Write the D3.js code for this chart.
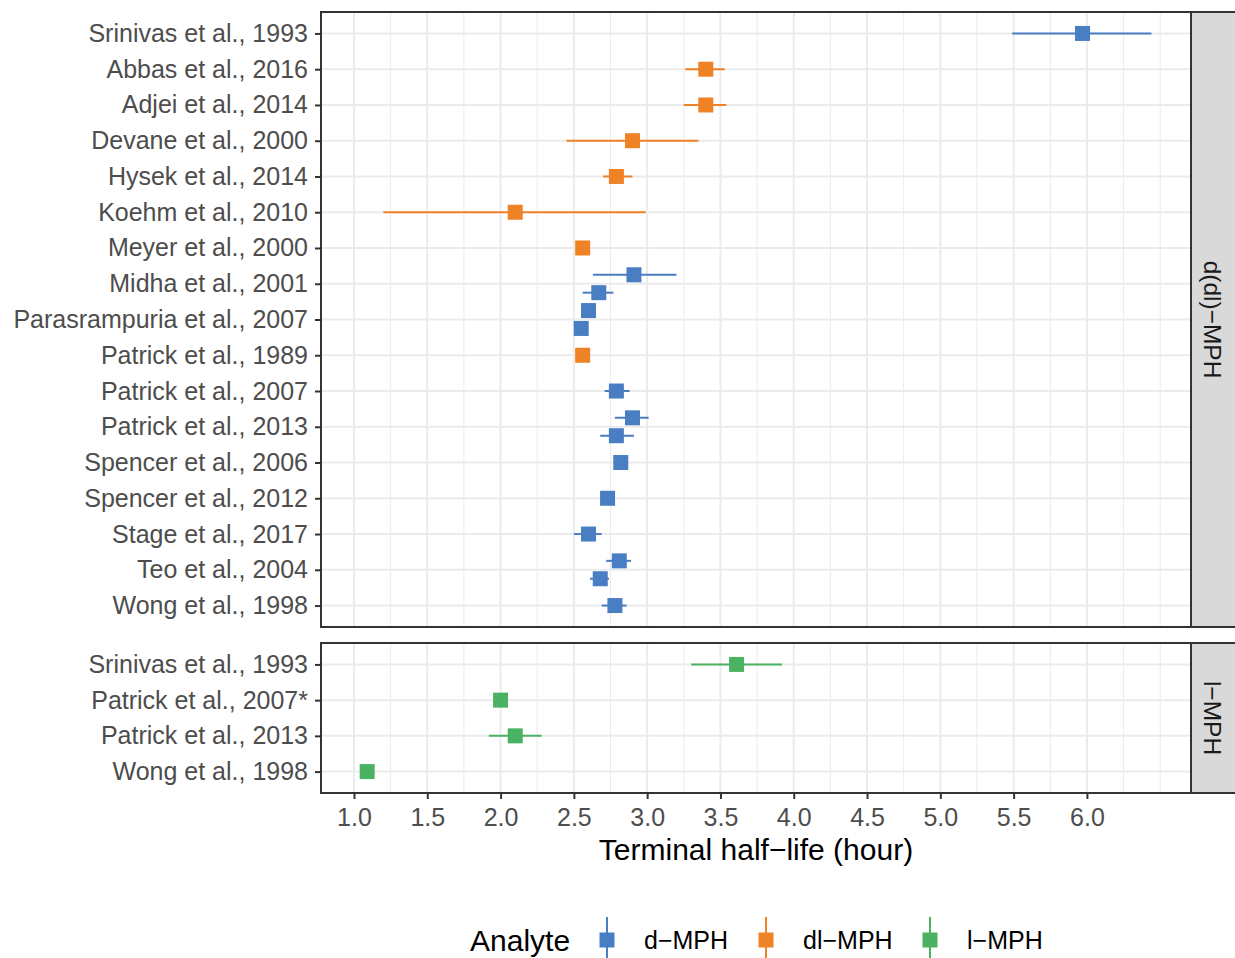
<!DOCTYPE html>
<html>
<head>
<meta charset="utf-8">
<script src="https://cdn.jsdelivr.net/npm/d3@7"></script>
<style>
  html, body { margin: 0; padding: 0; background: #ffffff; }
  svg { display: block; font-family: "Liberation Sans", Arial, sans-serif; }
</style>
</head>
<body>
<svg id="chart" width="1235" height="958"></svg>
<script>
// Study labels for each facet, top to bottom
const topStudies = [
  "Srinivas et al., 1993", "Abbas et al., 2016", "Adjei et al., 2014", "Devane et al., 2000",
  "Hysek et al., 2014", "Koehm et al., 2010", "Meyer et al., 2000", "Midha et al., 2001",
  "Parasrampuria et al., 2007", "Patrick et al., 1989", "Patrick et al., 2007", "Patrick et al., 2013",
  "Spencer et al., 2006", "Spencer et al., 2012", "Stage et al., 2017", "Teo et al., 2004",
  "Wong et al., 1998"
];
const bottomStudies = ["Srinivas et al., 1993", "Patrick et al., 2007*", "Patrick et al., 2013", "Wong et al., 1998"];

const analytes = ["d\u2212MPH", "dl\u2212MPH", "l\u2212MPH"];
const analyteColors = ["#4a7ec3", "#ef8226", "#4cb263"];
const facetLabels = ["d(dl)\u2212MPH", "l\u2212MPH"];

// Terminal half-life estimates: [study, analyte index, estimate, lower, upper]
// (null bounds where no interval was reported)
const topEstimates = [
  ["Srinivas et al., 1993", 0, 5.97, 5.49, 6.44],
  ["Abbas et al., 2016", 1, 3.40, 3.26, 3.53],
  ["Adjei et al., 2014", 1, 3.40, 3.25, 3.54],
  ["Devane et al., 2000", 1, 2.90, 2.45, 3.35],
  ["Hysek et al., 2014", 1, 2.79, 2.70, 2.90],
  ["Koehm et al., 2010", 1, 2.10, 1.20, 2.99],
  ["Meyer et al., 2000", 1, 2.56, null, null],
  ["Midha et al., 2001", 0, 2.91, 2.63, 3.20],
  ["Midha et al., 2001", 0, 2.67, 2.56, 2.77],
  ["Parasrampuria et al., 2007", 0, 2.60, null, null],
  ["Parasrampuria et al., 2007", 0, 2.55, null, null],
  ["Patrick et al., 1989", 1, 2.56, null, null],
  ["Patrick et al., 2007", 0, 2.79, 2.71, 2.88],
  ["Patrick et al., 2013", 0, 2.90, 2.78, 3.01],
  ["Patrick et al., 2013", 0, 2.79, 2.68, 2.91],
  ["Spencer et al., 2006", 0, 2.82, null, null],
  ["Spencer et al., 2012", 0, 2.73, null, null],
  ["Stage et al., 2017", 0, 2.60, 2.50, 2.69],
  ["Teo et al., 2004", 0, 2.81, 2.72, 2.89],
  ["Teo et al., 2004", 0, 2.68, 2.61, 2.74],
  ["Wong et al., 1998", 0, 2.78, 2.69, 2.86]
];
const bottomEstimates = [
  ["Srinivas et al., 1993", 2, 3.61, 3.30, 3.92],
  ["Patrick et al., 2007*", 2, 2.00, null, null],
  ["Patrick et al., 2013", 2, 2.10, 1.92, 2.28],
  ["Wong et al., 1998", 2, 1.09, null, null]
];

const xDomain = [0.775, 6.71];
const xTicks = [1.0, 1.5, 2.0, 2.5, 3.0, 3.5, 4.0, 4.5, 5.0, 5.5, 6.0];
const xMinorTicks = [1.25, 1.75, 2.25, 2.75, 3.25, 3.75, 4.25, 4.75, 5.25, 5.75, 6.25, 6.5];
const xTitle = "Terminal half\u2212life (hour)";
const legendTitle = "Analyte";

// ---- layout ----
const svg = d3.select("#chart");
const left = 321, right = 1191, stripW = 46;
const panels = [
  { studies: topStudies, data: topEstimates, y0: 12, y1: 627, label: facetLabels[0] },
  { studies: bottomStudies, data: bottomEstimates, y0: 643, y1: 793, label: facetLabels[1] }
];

const x = d3.scaleLinear().domain(xDomain).range([left, right]);
const axisTextColor = "#4d4d4d";
const frameColor = "#333333";
const textSize = 25;

panels.forEach(p => {
  const y = d3.scalePoint().domain(p.studies).range([p.y0, p.y1]).padding(0.6);
  const step = y.step();
  const g = svg.append("g");

  // panel background
  g.append("rect").attr("x", left).attr("y", p.y0).attr("width", right - left).attr("height", p.y1 - p.y0)
    .attr("fill", "#ffffff");

  // minor vertical grid
  g.append("g").selectAll("line").data(xMinorTicks).join("line")
    .attr("x1", d => x(d)).attr("x2", d => x(d)).attr("y1", p.y0).attr("y2", p.y1)
    .attr("stroke", "#ebebeb").attr("stroke-width", 1);
  // major vertical grid
  g.append("g").selectAll("line").data(xTicks).join("line")
    .attr("x1", d => x(d)).attr("x2", d => x(d)).attr("y1", p.y0).attr("y2", p.y1)
    .attr("stroke", "#ebebeb").attr("stroke-width", 2);
  // horizontal grid at each study
  g.append("g").selectAll("line").data(p.studies).join("line")
    .attr("x1", left).attr("x2", right).attr("y1", d => y(d)).attr("y2", d => y(d))
    .attr("stroke", "#ebebeb").attr("stroke-width", 2);

  // dodge estimates sharing a study row
  const counts = d3.rollup(p.data, v => v.length, d => d[0]);
  const seen = new Map();
  const rows = p.data.map(d => {
    const n = counts.get(d[0]);
    const i = seen.get(d[0]) || 0;
    seen.set(d[0], i + 1);
    return { study: d[0], a: d[1], est: d[2], lo: d[3], hi: d[4], cy: y(d[0]) + (i - (n - 1) / 2) * step * 0.5 };
  });

  // interval lines
  g.append("g").selectAll("line").data(rows.filter(r => r.lo != null)).join("line")
    .attr("x1", r => x(r.lo)).attr("x2", r => x(r.hi)).attr("y1", r => r.cy).attr("y2", r => r.cy)
    .attr("stroke", r => analyteColors[r.a]).attr("stroke-width", 2);
  // point estimates
  const sq = 15;
  g.append("g").selectAll("rect").data(rows).join("rect")
    .attr("x", r => x(r.est) - sq / 2).attr("y", r => r.cy - sq / 2)
    .attr("width", sq).attr("height", sq).attr("fill", r => analyteColors[r.a]);

  // panel border
  g.append("rect").attr("x", left).attr("y", p.y0).attr("width", right - left).attr("height", p.y1 - p.y0)
    .attr("fill", "none").attr("stroke", frameColor).attr("stroke-width", 2);

  // facet strip
  g.append("rect").attr("x", right).attr("y", p.y0).attr("width", stripW).attr("height", p.y1 - p.y0)
    .attr("fill", "#d9d9d9").attr("stroke", frameColor).attr("stroke-width", 2);
  g.append("text")
    .attr("transform", `translate(${right + 21},${(p.y0 + p.y1) / 2}) rotate(90)`)
    .attr("text-anchor", "middle").attr("dominant-baseline", "central")
    .attr("font-size", 24.5).attr("fill", "#1a1a1a").text(p.label);

  // y axis
  const yAxis = d3.axisLeft(y).tickSize(6).tickPadding(7);
  const ya = g.append("g").attr("transform", `translate(${left},0)`).call(yAxis);
  ya.select(".domain").remove();
  ya.selectAll(".tick line").attr("stroke", frameColor).attr("stroke-width", 2);
  ya.selectAll(".tick text").attr("fill", axisTextColor).attr("font-size", textSize)
    .attr("font-family", "Liberation Sans, Arial, sans-serif");
});

// x axis under the bottom panel
const xAxis = d3.axisBottom(x).tickValues(xTicks).tickFormat(d3.format(".1f")).tickSize(6).tickPadding(9);
const xa = svg.append("g").attr("transform", `translate(0,${panels[1].y1})`).call(xAxis);
xa.select(".domain").remove();
xa.selectAll(".tick line").attr("stroke", frameColor).attr("stroke-width", 2);
xa.selectAll(".tick text").attr("fill", axisTextColor).attr("font-size", textSize)
  .attr("font-family", "Liberation Sans, Arial, sans-serif");

svg.append("text").attr("x", (left + right) / 2).attr("y", 860)
  .attr("text-anchor", "middle").attr("font-size", 30).attr("fill", "#000").text(xTitle);

// legend
const legY = 940;
svg.append("text").attr("x", 470).attr("y", legY).attr("dominant-baseline", "central")
  .attr("font-size", 30).attr("fill", "#000").text(legendTitle);
const keyX = [607, 766, 930];
const lg = svg.append("g").selectAll("g").data(analytes).join("g")
  .attr("transform", (d, i) => `translate(${keyX[i]},${legY})`);
lg.append("line").attr("x1", 0).attr("x2", 0).attr("y1", -23).attr("y2", 22)
  .attr("stroke", (d, i) => analyteColors[i]).attr("stroke-width", 2);
lg.append("rect").attr("x", -7.5).attr("y", -7.5).attr("width", 15).attr("height", 15)
  .attr("fill", (d, i) => analyteColors[i]);
lg.append("text").attr("x", 37).attr("y", 0).attr("dominant-baseline", "central")
  .attr("font-size", textSize).attr("fill", "#000").text(d => d);
</script>
</body>
</html>
